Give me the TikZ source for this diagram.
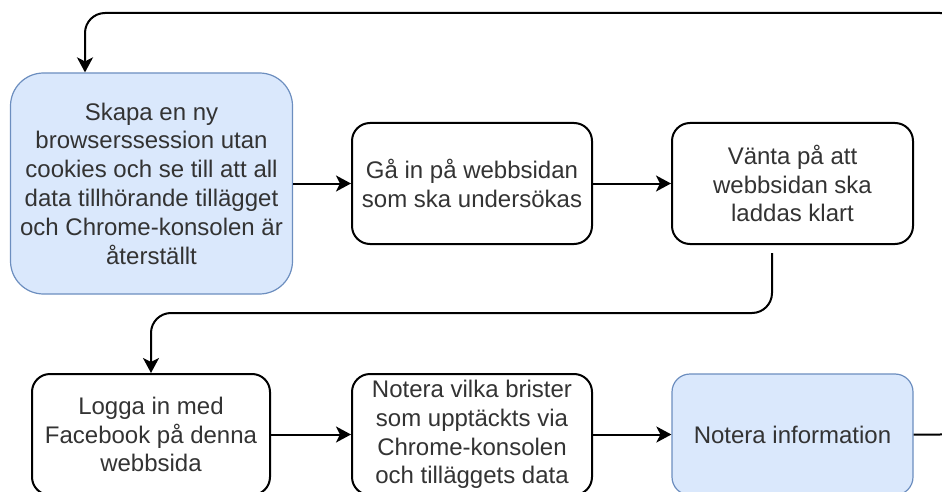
\documentclass[tikz,border=0pt]{standalone}
\usepackage{fontspec}
\setmainfont{Liberation Sans}
\usetikzlibrary{arrows.meta}
\definecolor{bluefill}{HTML}{DAE8FC}
\definecolor{blueline}{HTML}{6C8EBF}
\tikzset{
  stepbox/.style={draw=black, line width=1pt, rounded corners=9pt, fill=white,
    align=center, inner sep=0pt, font=\fontsize{12}{14.4}\selectfont,
    text=black!80, minimum height=60.5pt},
  bluebox/.style={stepbox, draw=blueline, fill=bluefill, line width=0.6pt},
  flow/.style={draw=black, line width=1pt, rounded corners=10pt,
    -{Stealth[length=7.5pt,width=8pt,inset=2pt]}}
}
\begin{document}
\begin{tikzpicture}[x=0.5pt, y=-0.5pt]
\useasboundingbox (0,0) rectangle (942,492);
\clip (0,0) rectangle (942,492);

% process steps
\node[bluebox, minimum width=141pt, minimum height=110.5pt, rounded corners=16.5pt]
  (s1) at (151.5,183.5) {Skapa en ny\\browserssession utan\\cookies och se till att all\\data tillhörande tillägget\\och Chrome-konsolen är\\återställt};
\node[stepbox, minimum width=120pt] (s2) at (472,183.5) {Gå in på webbsidan\\som ska undersökas};
\node[stepbox, minimum width=120.5pt] (s3) at (792.5,183.5) {Vänta på att\\webbsidan ska\\laddas klart};
\node[stepbox, minimum width=119pt] (s4) at (151,434.5) {Logga in med\\Facebook på denna\\webbsida};
\node[stepbox, minimum width=120pt] (s5) at (472,434.5) {Notera vilka brister\\som upptäckts via\\Chrome-konsolen\\och tilläggets data};
\node[bluebox, minimum width=120.5pt] (s6) at (792.5,434.5) {Notera information};

% routing points
\coordinate (loopR) at (960,13);
\coordinate (loopL) at (85,13);
\coordinate (s3out) at (772,253);
\coordinate (midrow) at (0,313);

% connectors
\draw[flow] (s1.east |- s2.west) -- (s2.west);
\draw[flow] (s2) -- (s3);
\draw[flow] (s3out) -- (s3out |- midrow) -- (s4 |- midrow) -- (s4.north);
\draw[flow] (s4) -- (s5);
\draw[flow] (s5) -- (s6);
\draw[flow] (s6.east) -- (loopR |- s6.east) -- (loopR) -- (loopL) -- (loopL |- s1.north);
\end{tikzpicture}
\end{document}
